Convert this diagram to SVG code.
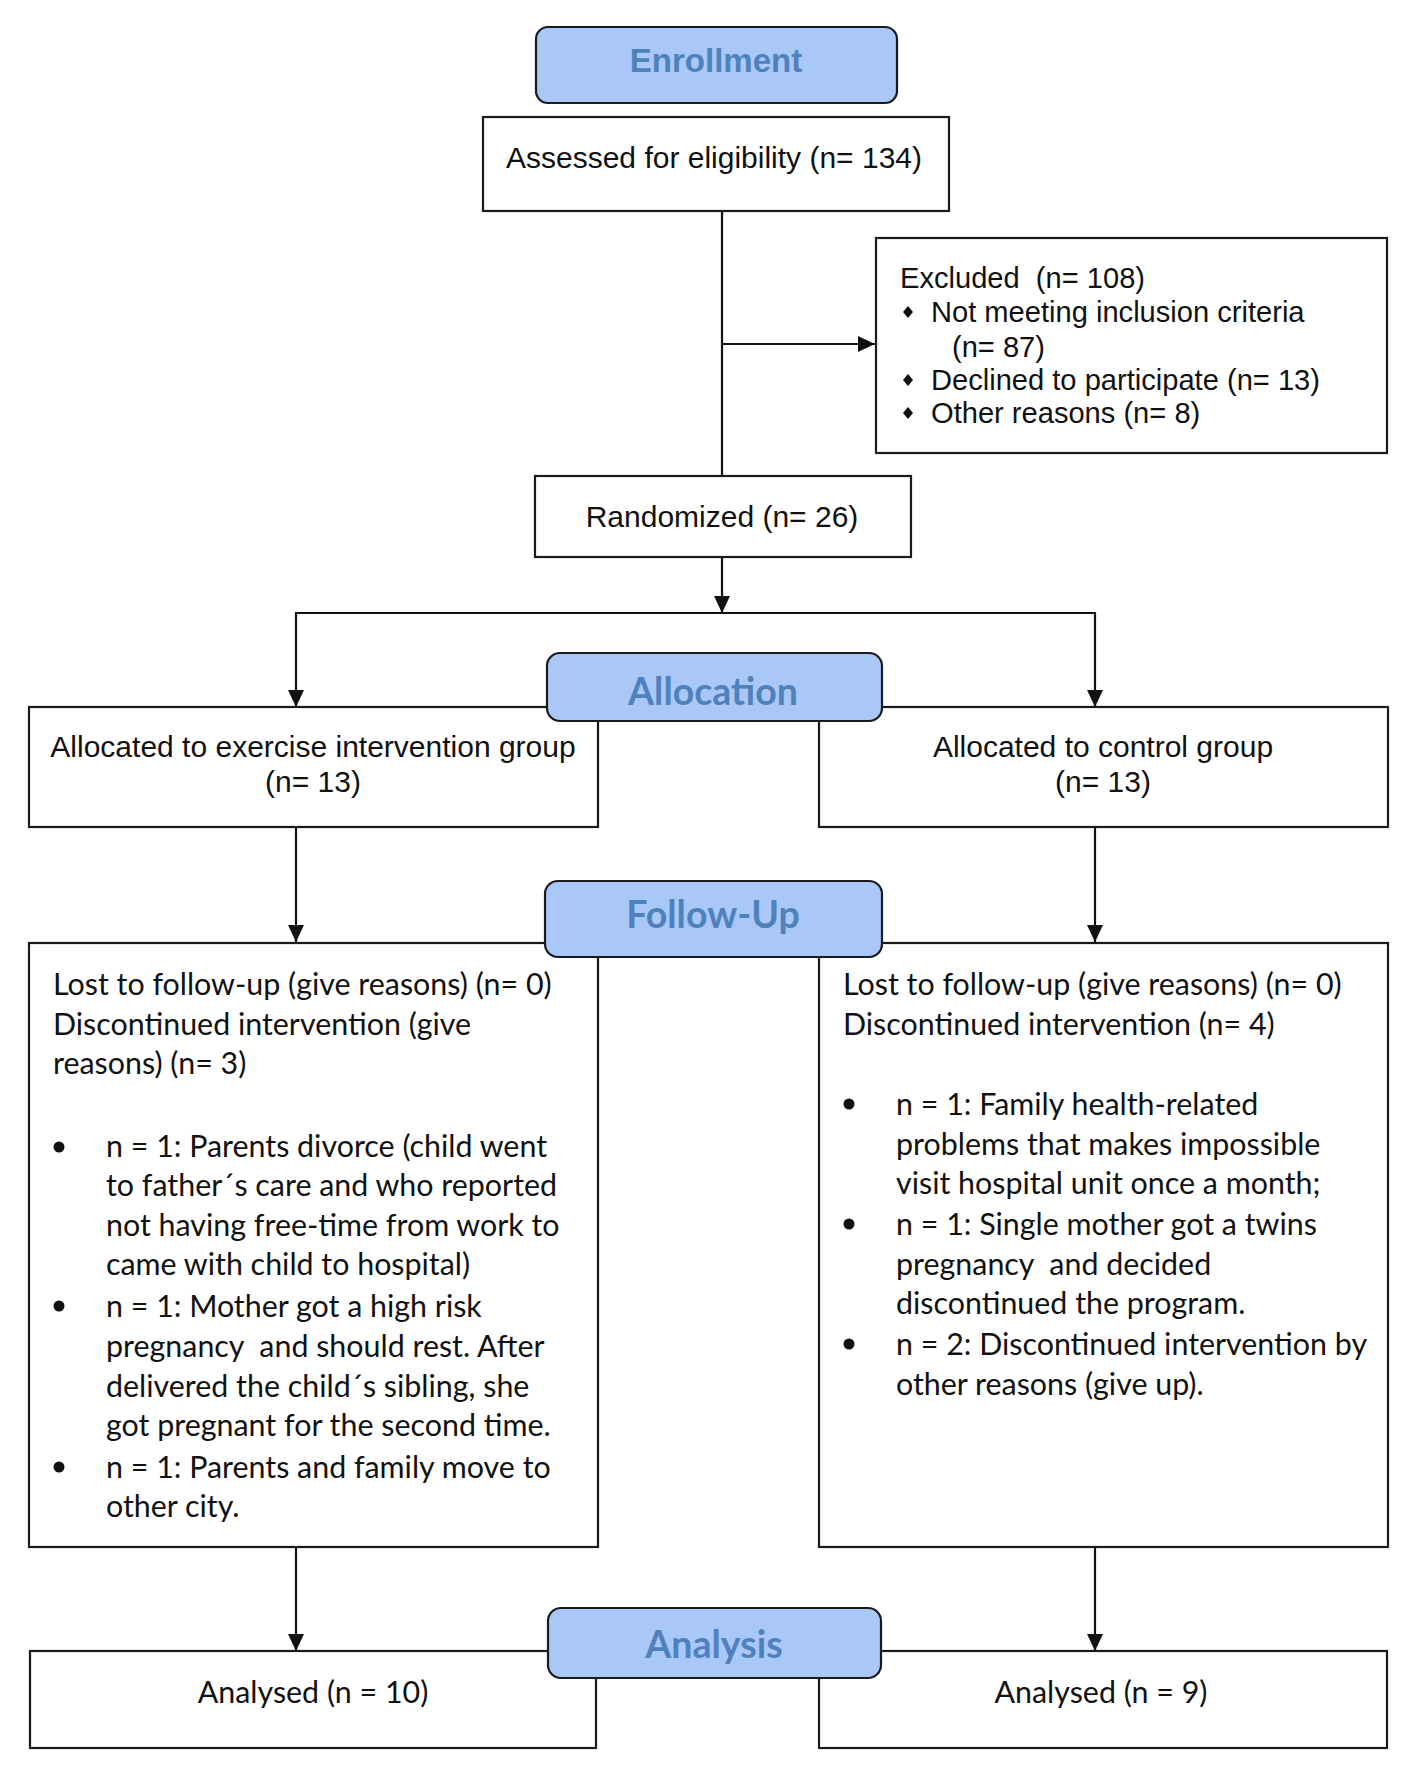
<svg xmlns="http://www.w3.org/2000/svg" width="1417" height="1787" viewBox="0 0 1417 1787">
<style>
.box{fill:#fff;stroke:#1a1a1a;stroke-width:2.2}
.hdr{fill:#a9c8f8;stroke:#1a1a1a;stroke-width:2.2}
.ht{font-family:Lato,"Open Sans",sans-serif;font-weight:bold;font-size:37.5px;fill:#4f81bd;text-anchor:middle}
.a{font-family:"Liberation Sans",Arial,sans-serif;font-size:30px;fill:#111}
.ex{font-size:29.1px}
.am{text-anchor:middle}
.c{font-family:Lato,"Open Sans",sans-serif;font-size:30.4px;fill:#111}
.ln{fill:none;stroke:#111;stroke-width:2.2}
.dot{fill:#111}
</style>
<defs>
<marker id="ah" markerWidth="18" markerHeight="16" refX="17" refY="8" orient="auto" markerUnits="userSpaceOnUse">
<path d="M0,0 L17,8 L0,16 z" fill="#111"/>
</marker>
</defs>
<rect width="1417" height="1787" fill="#fff"/>
<g id="connectors">
<line class="ln" x1="722" y1="211" x2="722" y2="476"/>
<line class="ln" x1="722" y1="344" x2="875" y2="344" marker-end="url(#ah)"/>
<line class="ln" x1="722" y1="557" x2="722" y2="613" marker-end="url(#ah)"/>
<line class="ln" x1="295" y1="613" x2="1096" y2="613"/>
<line class="ln" x1="296" y1="613" x2="296" y2="707" marker-end="url(#ah)"/>
<line class="ln" x1="1095" y1="613" x2="1095" y2="707" marker-end="url(#ah)"/>
<line class="ln" x1="296" y1="827" x2="296" y2="942" marker-end="url(#ah)"/>
<line class="ln" x1="1095" y1="827" x2="1095" y2="942" marker-end="url(#ah)"/>
<line class="ln" x1="296" y1="1547" x2="296" y2="1651" marker-end="url(#ah)"/>
<line class="ln" x1="1095" y1="1547" x2="1095" y2="1651" marker-end="url(#ah)"/>
</g>
<g id="assessed">
<rect class="box" x="483" y="117" width="466" height="94"/>
<text class="a am" x="714" y="168">Assessed for eligibility (n= 134)</text>
</g>
<g id="excluded">
<rect class="box" x="876" y="238" width="511" height="215"/>
<text class="a ex" x="900" y="288" xml:space="preserve">Excluded  (n= 108)</text>
<path class="dot" d="M908,306 l5,6 l-5,6 l-5,-6 z"/>
<text class="a ex" x="931" y="322">Not meeting inclusion criteria</text>
<text class="a ex" x="952" y="357">(n= 87)</text>
<path class="dot" d="M908,374 l5,6 l-5,6 l-5,-6 z"/>
<text class="a ex" x="931" y="390">Declined to participate (n= 13)</text>
<path class="dot" d="M908,407 l5,6 l-5,6 l-5,-6 z"/>
<text class="a ex" x="931" y="423">Other reasons (n= 8)</text>
</g>
<g id="randomized">
<rect class="box" x="535" y="476" width="376" height="81"/>
<text class="a am" x="722" y="527">Randomized (n= 26)</text>
</g>
<g id="alloc-exercise">
<rect class="box" x="29" y="707" width="569" height="120"/>
<text class="a am" x="313" y="757">Allocated to exercise intervention group</text>
<text class="a am" x="313" y="792">(n= 13)</text>
</g>
<g id="alloc-control">
<rect class="box" x="819" y="707" width="569" height="120"/>
<text class="a am" x="1103" y="757">Allocated to control group</text>
<text class="a am" x="1103" y="792">(n= 13)</text>
</g>
<g id="followup-exercise">
<rect class="box" x="29" y="943" width="569" height="604"/>
<text class="c" x="53" y="995">Lost to follow-up (give reasons) (n= 0)</text>
<text class="c" x="53" y="1035">Discontinued intervention (give</text>
<text class="c" x="53" y="1074">reasons) (n= 3)</text>
<circle class="dot" cx="59" cy="1147" r="5.5"/>
<text class="c" x="106" y="1157">n = 1: Parents divorce (child went</text>
<text class="c" x="106" y="1196">to father´s care and who reported</text>
<text class="c" x="106" y="1236">not having free-time from work to</text>
<text class="c" x="106" y="1275">came with child to hospital)</text>
<circle class="dot" cx="59" cy="1306" r="5.5"/>
<text class="c" x="106" y="1317">n = 1: Mother got a high risk</text>
<text class="c" x="106" y="1357" xml:space="preserve">pregnancy  and should rest. After</text>
<text class="c" x="106" y="1397">delivered the child´s sibling, she</text>
<text class="c" x="106" y="1436">got pregnant for the second time.</text>
<circle class="dot" cx="59" cy="1467" r="5.5"/>
<text class="c" x="106" y="1478">n = 1: Parents and family move to</text>
<text class="c" x="106" y="1517">other city.</text>
</g>
<g id="followup-control">
<rect class="box" x="819" y="943" width="569" height="604"/>
<text class="c" x="843" y="995">Lost to follow-up (give reasons) (n= 0)</text>
<text class="c" x="843" y="1035">Discontinued intervention (n= 4)</text>
<circle class="dot" cx="849" cy="1104" r="5.5"/>
<text class="c" x="896" y="1115">n = 1: Family health-related</text>
<text class="c" x="896" y="1155">problems that makes impossible</text>
<text class="c" x="896" y="1194">visit hospital unit once a month;</text>
<circle class="dot" cx="849" cy="1224" r="5.5"/>
<text class="c" x="896" y="1235">n = 1: Single mother got a twins</text>
<text class="c" x="896" y="1275" xml:space="preserve">pregnancy  and decided</text>
<text class="c" x="896" y="1314">discontinued the program.</text>
<circle class="dot" cx="849" cy="1344" r="5.5"/>
<text class="c" x="896" y="1355">n = 2: Discontinued intervention by</text>
<text class="c" x="896" y="1395">other reasons (give up).</text>
</g>
<g id="analysed-exercise">
<rect class="box" x="30" y="1651" width="566" height="97"/>
<text class="c" x="313" y="1703" text-anchor="middle">Analysed (n = 10)</text>
</g>
<g id="analysed-control">
<rect class="box" x="819" y="1651" width="568" height="97"/>
<text class="c" x="1101" y="1703" text-anchor="middle">Analysed (n = 9)</text>
</g>
<g id="hdr-enrollment">
<rect class="hdr" x="536" y="27" width="361" height="76" rx="12"/>
<text x="716" y="72" font-family="'Liberation Sans',Arial,sans-serif" font-weight="bold" font-size="33" fill="#4f81bd" text-anchor="middle">Enrollment</text>
</g>
<g id="hdr-allocation">
<rect class="hdr" x="547" y="653" width="335" height="68" rx="13"/>
<text class="ht" x="713" y="705">Allocation</text>
</g>
<g id="hdr-followup">
<rect class="hdr" x="545" y="881" width="337" height="76" rx="13"/>
<text class="ht" x="713" y="928">Follow-Up</text>
</g>
<g id="hdr-analysis">
<rect class="hdr" x="548" y="1608" width="333" height="70" rx="13"/>
<text class="ht" x="714" y="1658">Analysis</text>
</g>
</svg>
